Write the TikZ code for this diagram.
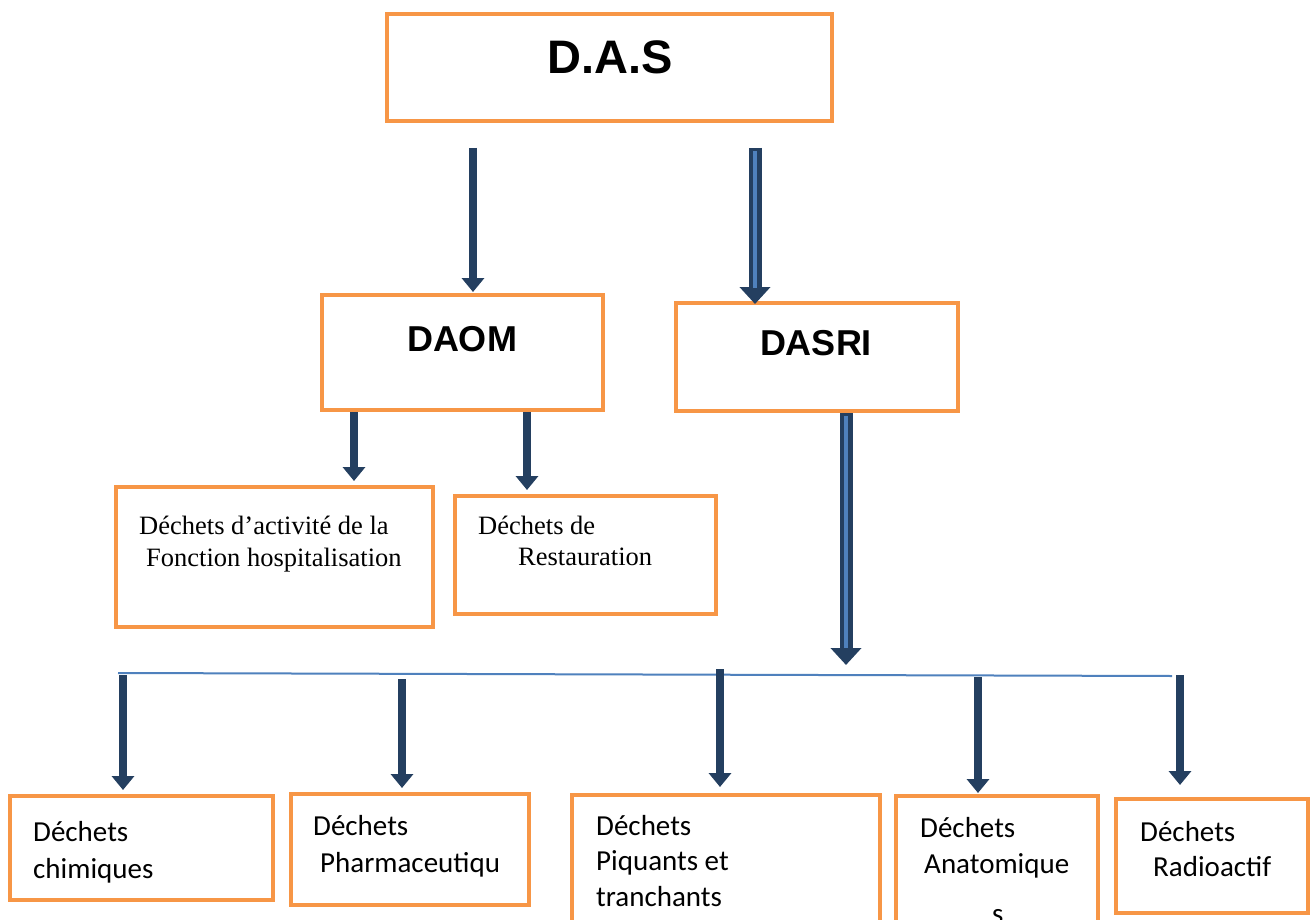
\documentclass[tikz,border=0pt]{standalone}
\usepackage{fontspec}
\setmainfont{Liberation Serif}
\newfontfamily\arialf{Liberation Sans}
\newfontfamily\calf{Carlito}
\usetikzlibrary{arrows.meta}
\definecolor{boxor}{HTML}{F79646}
\definecolor{navy}{HTML}{243F60}
\definecolor{lblue}{HTML}{4F81BD}
\begin{document}
\begin{tikzpicture}[x=1pt,y=-1pt,
  box/.style={draw=boxor,line width=4pt,rectangle,inner sep=0pt},
  arr/.style={draw=navy,line width=8pt,-{Triangle[width=22pt,length=14pt]}},
  darr/.style={draw=navy,line width=13pt,-{Triangle[width=30pt,length=17pt]}},
  dcore/.style={draw=lblue,line width=4pt},
  bigt/.style={font=\arialf\bfseries\fontsize{47}{56}\selectfont,inner sep=0pt},
  midt/.style={font=\arialf\bfseries\fontsize{36}{43}\selectfont,inner sep=0pt},
  sert/.style={font=\fontsize{26.5}{31}\selectfont,anchor=base west,inner sep=0pt},
  calt/.style={font=\calf\fontsize{29}{35}\selectfont,anchor=base west,inner sep=0pt}]
\useasboundingbox (0,0) rectangle (1311,920);
\fill[white] (0,0) rectangle (1311,920);

% boxes (centre, width x height)
\node[box,minimum width=445pt,minimum height=107pt] (das)   at (609.5,67.5) {};
\node[box,minimum width=281pt,minimum height=115pt] (daom)  at (462.5,352.5) {};
\node[box,minimum width=282pt,minimum height=108pt] (dasri) at (817,357) {};
\node[box,minimum width=317pt,minimum height=140pt] (hosp)  at (274.5,557) {};
\node[box,minimum width=261pt,minimum height=118pt] (resto) at (585.5,555) {};
\node[box,minimum width=263pt,minimum height=104pt] (chim)  at (141.5,848) {};
\node[box,minimum width=238pt,minimum height=111pt] (pharm) at (410,849.5) {};
\node[box,minimum width=308pt,minimum height=140pt] (piq)   at (726,865) {};
\node[box,minimum width=202pt,minimum height=139pt] (anat)  at (997,865.5) {};
\node[box,minimum width=192pt,minimum height=114pt] (radio) at (1212,856) {};

% texts
\node[bigt] (tdas) at (610,57) {D.A.S};
\node[midt] (tdaom) at (462,339) {DAOM};
\node[midt] (tdasri) at (816,343) {DASRI};
\node[sert] (t4a) at (139,534) {Déchets d’activité de la};
\node[sert] (t4b) at (146,566) {Fonction hospitalisation};
\node[sert] (t5a) at (478,534) {Déchets de};
\node[sert] (t5b) at (518,565) {Restauration};
\node[calt] (b1a) at (33,841) {Déchets};
\node[calt] (b1b) at (33,878) {chimiques};
\node[calt] (b2a) at (313,835) {Déchets};
\node[calt] (b2b) at (320,872) {Pharmaceutiqu};
\node[calt] (b3a) at (596,835) {Déchets};
\node[calt] (b3b) at (596,870) {Piquants et};
\node[calt] (b3c) at (596,906) {tranchants};
\node[calt] (b4a) at (920,837) {Déchets};
\node[calt] (b4b) at (924,873) {Anatomique};
\node[calt] (b4c) at (992,923) {s};
\node[calt] (b5a) at (1140,841) {Déchets};
\node[calt] (b5b) at (1153,876) {Radioactif};

% arrow start coordinates
\coordinate (s1) at (473,148);
\coordinate (s2) at (755,148);
\coordinate (c2) at (755,288);
\coordinate (s3) at (354,412);
\coordinate (s4) at (527,412);
\coordinate (s5) at (846,413);
\coordinate (e5) at (846,665);
\coordinate (c5) at (846,648);
\coordinate (busl) at (118,673);
\coordinate (busr) at (1172,676);

\draw[arr,shorten >=1pt] (s1) -- (s1 |- daom.north);
\draw[darr,shorten >=-3pt] (s2) -- (s2 |- dasri.north);
\draw[dcore] ([yshift=-3pt]s2) -- (c2);
\draw[arr,shorten >=4pt] (s3) -- (s3 |- hosp.north);
\draw[arr,shorten >=4pt] (s4) -- (s4 |- resto.north);
\draw[darr] (s5) -- (e5);
\draw[dcore] ([yshift=-3pt]s5) -- (c5);

\draw[lblue,line width=2pt] (busl) -- (busr);

\coordinate (p1) at (123,675);
\coordinate (p2) at (402,679);
\coordinate (p3) at (720,669);
\coordinate (p4) at (978,677);
\coordinate (p5) at (1180,675);
\draw[arr,shorten >=4pt] (p1) -- (p1 |- chim.north);
\draw[arr,shorten >=4pt] (p2) -- (p2 |- pharm.north);
\draw[arr,shorten >=6pt] (p3) -- (p3 |- piq.north);
\draw[arr,shorten >=1pt] (p4) -- (p4 |- anat.north);
\draw[arr,shorten >=12pt] (p5) -- (p5 |- radio.north);
\end{tikzpicture}
\end{document}
